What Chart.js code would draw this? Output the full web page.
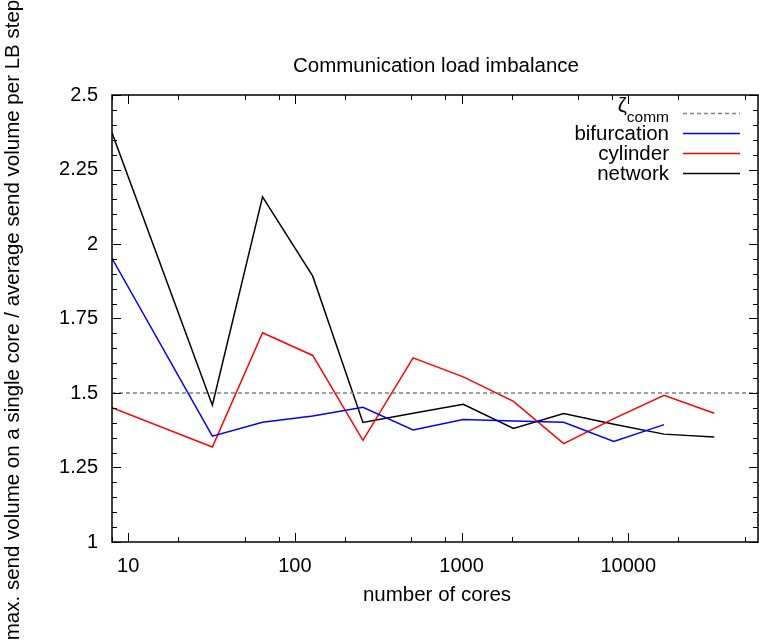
<!DOCTYPE html>
<html>
<head>
<meta charset="utf-8">
<script src="https://cdn.jsdelivr.net/npm/chart.js@4.4.0/dist/chart.umd.min.js"></script>
<style>
  html, body { margin: 0; padding: 0; background: #fff; }
</style>
</head>
<body>
<canvas id="chart" width="759" height="644"></canvas>
<script>
// values
const cores = [8, 32, 64, 128, 256, 512, 1024, 2048, 4096, 8192, 16384, 32768];
const bifurcation = [1.952, 1.355, 1.402, 1.423, 1.452, 1.376, 1.411, 1.406, 1.402, 1.337, 1.394, null];
const cylinder = [1.451, 1.319, 1.702, 1.626, 1.341, 1.618, 1.554, 1.472, 1.330, 1.414, 1.492, 1.432];
const network = [2.373, 1.459, 2.158, 1.892, 1.401, 1.432, 1.462, 1.381, 1.431, 1.395, 1.362, 1.352];
const zetaComm = 1.5;
const xRange = [8, 60000];
const yRange = [1, 2.5];
const xTickValues = [10, 100, 1000, 10000];
const yTickValues = [1, 1.25, 1.5, 1.75, 2, 2.25, 2.5];

const FONT = '"Liberation Sans", Arial, Helvetica, sans-serif';

const toPoints = (vals) => cores
  .map((c, i) => ({ x: c, y: vals[i] }))
  .filter(p => p.y !== null);

const line = (label, vals, color) => ({
  label: label,
  data: toPoints(vals),
  borderColor: color,
  borderWidth: 1.5,
  pointRadius: 0,
  tension: 0,
  fill: false
});

const data = {
  datasets: [
    {
      label: 'ζcomm',
      data: [{ x: xRange[0], y: zetaComm }, { x: xRange[1], y: zetaComm }],
      borderColor: '#808080',
      borderWidth: 1.5,
      borderDash: [4, 3],
      pointRadius: 0,
      fill: false
    },
    line('bifurcation', bifurcation, '#0000ff'),
    line('cylinder', cylinder, '#ff0000'),
    line('network', network, '#000000')
  ]
};

// frame, inward ticks on all sides, titles and legend, gnuplot style
const decorations = {
  id: 'decorations',
  afterDraw(chart) {
    const ctx = chart.ctx;
    const a = chart.chartArea;
    const xs = chart.scales.x, ys = chart.scales.y;
    ctx.save();
    ctx.strokeStyle = '#000';
    ctx.lineWidth = 1.5;
    ctx.strokeRect(a.left, a.top, a.right - a.left, a.bottom - a.top);

    ctx.lineWidth = 1;
    ctx.beginPath();
    // y ticks
    for (let v = yRange[0]; v <= yRange[1] + 1e-9; v += 0.05) {
      const major = Math.abs(v / 0.25 - Math.round(v / 0.25)) < 1e-6;
      const len = major ? 9 : 5;
      const y = Math.round(ys.getPixelForValue(v)) + 0.5;
      ctx.moveTo(a.left, y); ctx.lineTo(a.left + len, y);
      ctx.moveTo(a.right, y); ctx.lineTo(a.right - len, y);
    }
    // x ticks (log): majors at decades, minors at 2, 5, 8
    for (let d = 1; d <= 100000; d *= 10) {
      [[1, 9], [2, 5], [5, 5], [8, 5]].forEach(([m, len]) => {
        const v = d * m;
        if (v < xRange[0] || v > xRange[1]) return;
        const x = Math.round(xs.getPixelForValue(v)) + 0.5;
        ctx.moveTo(x, a.bottom); ctx.lineTo(x, a.bottom - len);
        ctx.moveTo(x, a.top); ctx.lineTo(x, a.top + len);
      });
    }
    ctx.stroke();

    ctx.fillStyle = '#000';
    ctx.font = '20.5px ' + FONT;
    ctx.textAlign = 'center';
    ctx.textBaseline = 'middle';
    ctx.fillText('Communication load imbalance', (a.left + a.right) / 2 + 1, 66);
    ctx.fillText('number of cores', (a.left + a.right) / 2 + 2, 595);
    ctx.save();
    ctx.translate(13, 320);
    ctx.rotate(-Math.PI / 2);
    ctx.fillText('max. send volume on a single core / average send volume per LB step', 0, 0);
    ctx.restore();

    // legend
    const textRight = 669, lineL = 683, lineR = 740;
    chart.data.datasets.forEach((ds, i) => {
      const y = 113 + i * 20;
      ctx.textAlign = 'right';
      ctx.textBaseline = 'alphabetic';
      if (i === 0) {
        ctx.font = '15.5px ' + FONT;
        const sub = 'comm';
        const w = ctx.measureText(sub).width;
        ctx.fillText(sub, textRight, y + 9);
        ctx.font = '20.5px ' + FONT;
        ctx.fillText('ζ', textRight - w, y - 1);
      } else {
        ctx.font = '20.5px ' + FONT;
        ctx.fillText(ds.label, textRight, y + 7);
      }
      ctx.beginPath();
      ctx.strokeStyle = ds.borderColor;
      ctx.lineWidth = ds.borderWidth;
      ctx.setLineDash(ds.borderDash || []);
      ctx.moveTo(lineL, y + 0.5);
      ctx.lineTo(lineR, y + 0.5);
      ctx.stroke();
      ctx.setLineDash([]);
    });
    ctx.restore();
  }
};

const options = {
  responsive: false,
  animation: false,
  layout: { padding: { top: 95, right: 1, left: 0, bottom: 0 } },
  plugins: { legend: { display: false }, title: { display: false }, tooltip: { enabled: false } },
  scales: {
    x: {
      type: 'logarithmic',
      min: xRange[0],
      max: xRange[1],
      afterFit: (s) => { s.height = 102; },
      afterBuildTicks: (s) => { s.ticks = xTickValues.map(v => ({ value: v })); },
      grid: { display: false, drawTicks: false },
      border: { display: false },
      ticks: {
        autoSkip: false,
        maxRotation: 0,
        padding: 12,
        color: '#000',
        font: { size: 20, family: FONT },
        callback: (v) => String(v)
      }
    },
    y: {
      min: yRange[0],
      max: yRange[1],
      afterFit: (s) => { s.width = 112; },
      afterBuildTicks: (s) => { s.ticks = yTickValues.map(v => ({ value: v })); },
      grid: { display: false, drawTicks: false },
      border: { display: false },
      ticks: {
        padding: 14,
        color: '#000',
        font: { size: 20, family: FONT },
        callback: (v) => String(v)
      }
    }
  }
};

new Chart(document.getElementById('chart').getContext('2d'), {
  type: 'line',
  data: data,
  options: options,
  plugins: [decorations]
});
</script>
</body>
</html>
